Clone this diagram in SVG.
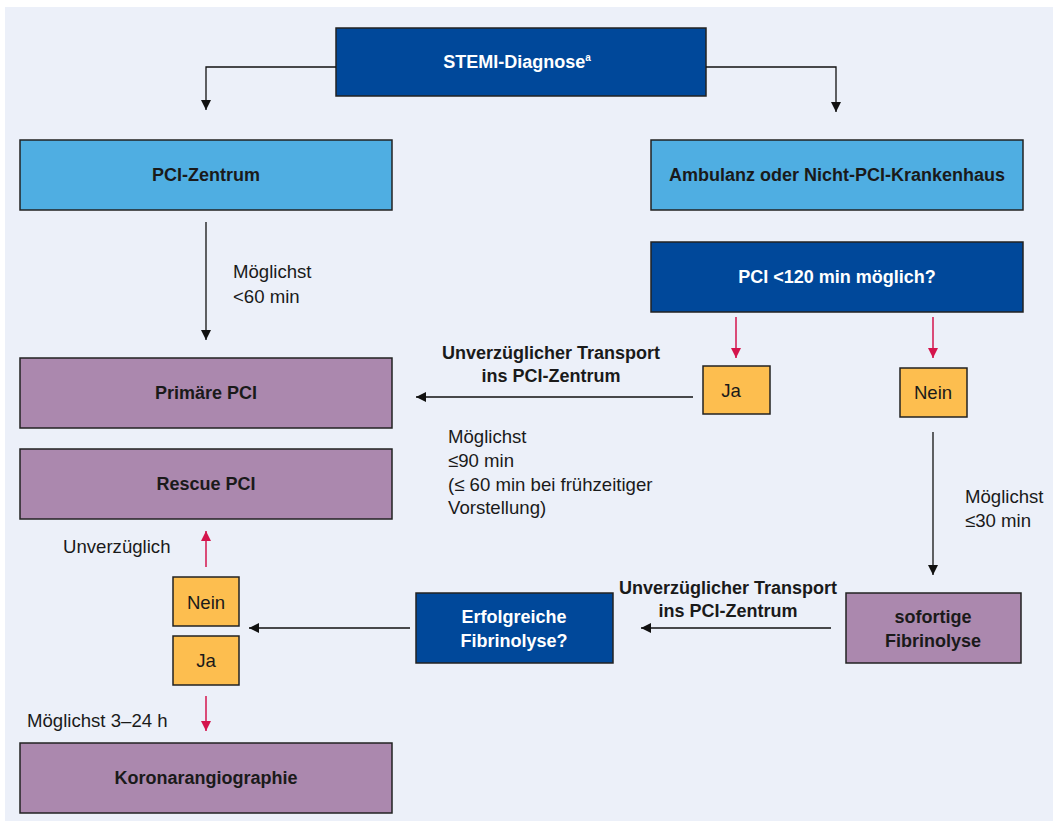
<svg xmlns="http://www.w3.org/2000/svg" width="1053" height="824" viewBox="0 0 1053 824">
<defs>
<marker id="ab" viewBox="0 0 10 10" refX="10" refY="5" markerWidth="10" markerHeight="10" markerUnits="userSpaceOnUse" orient="auto"><path d="M0,0 L10,5 L0,10 z" fill="#111"/></marker>
<marker id="ar" viewBox="0 0 10 10" refX="10" refY="5" markerWidth="10" markerHeight="10" markerUnits="userSpaceOnUse" orient="auto"><path d="M0,0 L10,5 L0,10 z" fill="#D4144C"/></marker>
</defs>
<style>
text{font-family:"Liberation Sans",Arial,sans-serif;font-size:18.6px;fill:#1a1a1a}
.b{font-weight:bold;font-size:18px}
.w{fill:#fff}
.m{text-anchor:middle}
.box{stroke:#222;stroke-width:1.5}
.dk{fill:#00489A}
.lb{fill:#4FAEE2}
.pu{fill:#AB88AE}
.or{fill:#FDBE4F}
.k{stroke:#111;stroke-width:1.3;fill:none;marker-end:url(#ab)}
.r{stroke:#D4144C;stroke-width:1.5;fill:none;marker-end:url(#ar)}
</style>
<rect width="1053" height="824" fill="#fff"/>
<rect x="5" y="7" width="1048" height="814" fill="#ECF0F9"/>

<g id="stemi"><rect class="box dk" x="336" y="28" width="370" height="68"/><text class="b w m" x="517" y="68">STEMI-Diagnose<tspan font-size="10" dy="-7">a</tspan></text></g>
<g id="pcizentrum"><rect class="box lb" x="20" y="140" width="372" height="70"/><text class="b m" x="206" y="181">PCI-Zentrum</text></g>
<g id="ambulanz"><rect class="box lb" x="651" y="140" width="372" height="70"/><text class="b m" x="837" y="181">Ambulanz oder Nicht-PCI-Krankenhaus</text></g>
<g id="pci120"><rect class="box dk" x="651" y="242" width="372" height="70"/><text class="b w m" x="837" y="283">PCI &lt;120 min möglich?</text></g>
<g id="primaer"><rect class="box pu" x="20" y="358" width="372" height="70"/><text class="b m" x="206" y="399">Primäre PCI</text></g>
<g id="rescue"><rect class="box pu" x="20" y="449" width="372" height="70"/><text class="b m" x="206" y="490">Rescue PCI</text></g>
<g id="ja1"><rect class="box or" x="703" y="366" width="67" height="48"/><text class="m" x="731" y="397">Ja</text></g>
<g id="nein1"><rect class="box or" x="900" y="368" width="67" height="49"/><text class="m" x="933" y="399">Nein</text></g>
<g id="sofortige"><rect class="box pu" x="846" y="593" width="175" height="70"/><text class="b m" x="933" y="623">sofortige</text><text class="b m" x="933" y="647">Fibrinolyse</text></g>
<g id="erfolgreiche"><rect class="box dk" x="416" y="593" width="197" height="70"/><text class="b w m" x="514" y="623">Erfolgreiche</text><text class="b w m" x="514" y="647">Fibrinolyse?</text></g>
<g id="nein2"><rect class="box or" x="173" y="577" width="66" height="49"/><text class="m" x="206" y="609">Nein</text></g>
<g id="ja2"><rect class="box or" x="173" y="636" width="66" height="49"/><text class="m" x="206" y="667">Ja</text></g>
<g id="koronar"><rect class="box pu" x="20" y="743" width="372" height="70"/><text class="b m" x="206" y="784">Koronarangiographie</text></g>

<g id="connectors">
<path class="k" d="M336,67 H206 V110"/>
<path class="k" d="M706,67 H836 V112"/>
<path class="k" d="M206,222 V340"/>
<path class="r" d="M736,317 V358"/>
<path class="r" d="M933,317 V358"/>
<path class="k" d="M693,397 H416"/>
<path class="k" d="M933,432 V575"/>
<path class="k" d="M831,628 H641"/>
<path class="k" d="M410,628 H249"/>
<path class="r" d="M206,567 V531"/>
<path class="r" d="M206,696 V731"/>
</g>

<g id="labels">
<text x="233" y="278">Möglichst</text>
<text x="233" y="303">&lt;60 min</text>
<text class="b m" x="551" y="359">Unverzüglicher Transport</text>
<text class="b m" x="551" y="382">ins PCI-Zentrum</text>
<text x="448" y="443">Möglichst</text>
<text x="448" y="467">≤90 min</text>
<text x="448" y="491">(≤ 60 min bei frühzeitiger</text>
<text x="448" y="514"> Vorstellung)</text>
<text x="965" y="503">Möglichst</text>
<text x="965" y="527">≤30 min</text>
<text class="b m" x="728" y="594">Unverzüglicher Transport</text>
<text class="b m" x="728" y="617">ins PCI-Zentrum</text>
<text x="63" y="553">Unverzüglich</text>
<text x="27" y="727">Möglichst 3–24 h</text>
</g>
</svg>
